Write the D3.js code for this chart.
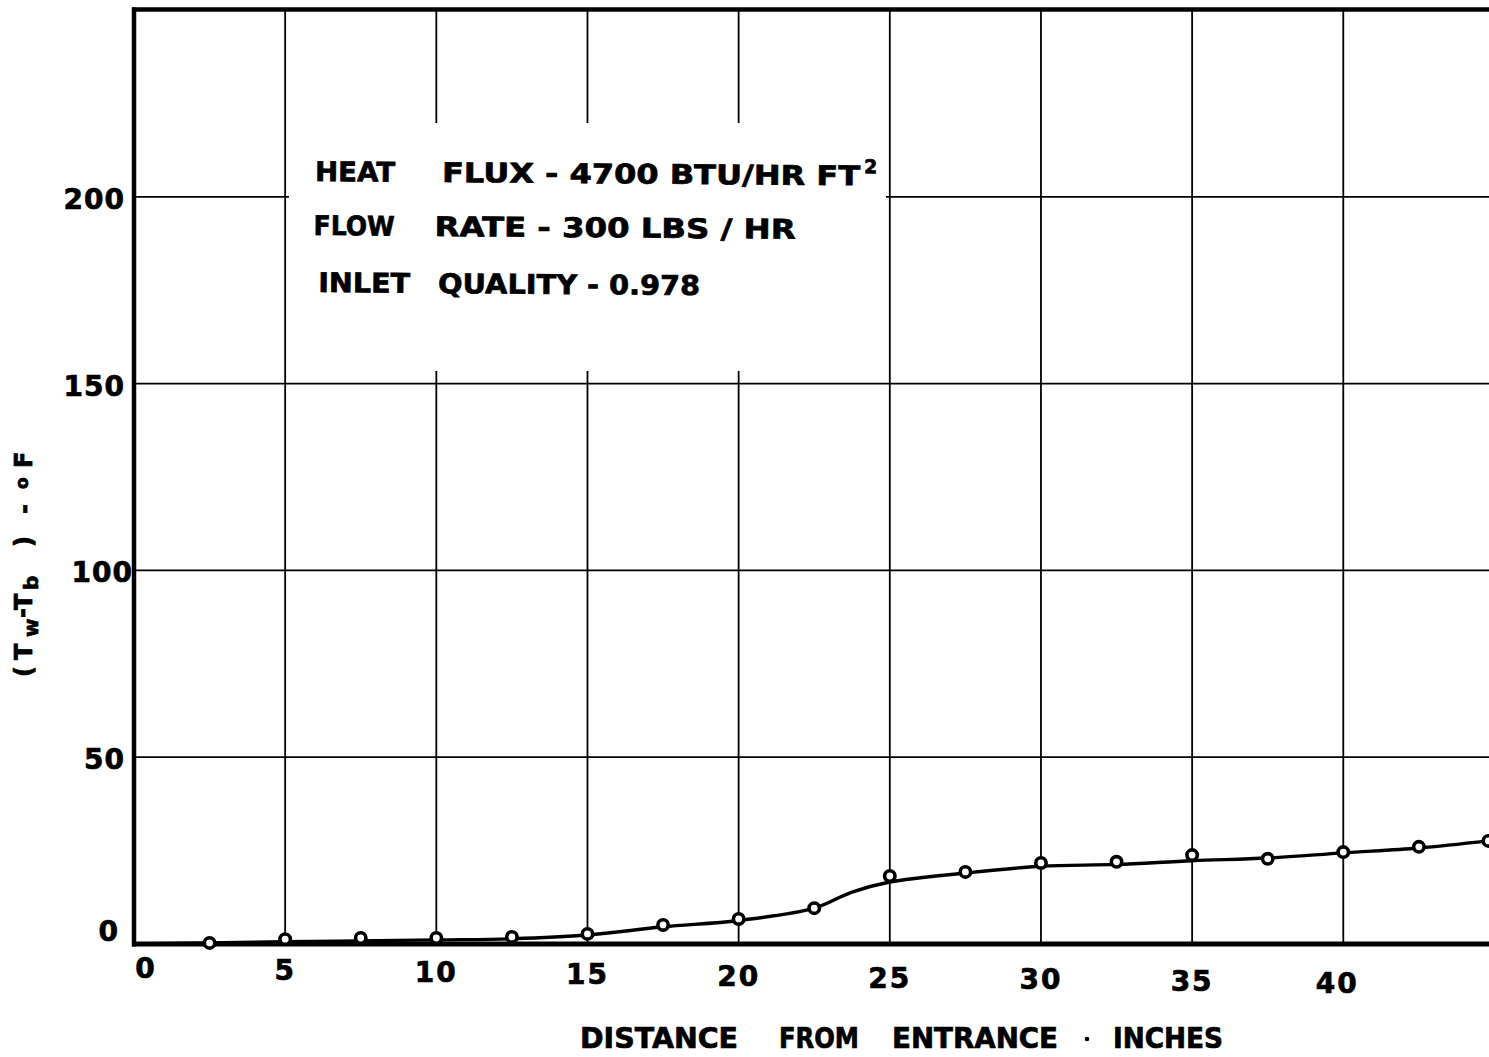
<!DOCTYPE html>
<html>
<head>
<meta charset="utf-8">
<script src="https://cdn.jsdelivr.net/npm/d3@7"></script>
<style>
  html, body { margin: 0; padding: 0; background: #fff; }
  svg { display: block; }
  text { font-family: "DejaVu Sans", "Liberation Sans", sans-serif; font-weight: bold; fill: #000; stroke: #000; stroke-width: 0.7px; }
</style>
</head>
<body>
<script>
// Measured wall-to-bulk temperature difference along the test section
const distance = [2.5, 5, 7.5, 10, 12.5, 15, 17.5, 20, 22.5, 25, 27.5, 30, 32.5, 35, 37.5, 40, 42.5, 44.8];
const deltaT   = [0.3, 1.3, 1.6, 1.6, 1.9, 2.7, 5.1, 6.7, 9.6, 18.2, 19.3, 21.7, 22.0, 23.8, 22.8, 24.6, 26.0, 27.6];

// Faired curve drawn through the data
const curveX = [0, 5, 10, 12.5, 15, 17.5, 20, 22.5, 23.75, 25, 27.5, 30, 32.5, 35, 37.5, 40, 42.5, 44.8];
const curveY = [0, 0.6, 1.1, 1.4, 2.4, 4.6, 6.3, 9.6, 13.9, 16.6, 19.0, 20.8, 21.3, 22.3, 23.0, 24.4, 25.7, 27.6];

// Axis ticks and labels
const xTicks = [0, 5, 10, 15, 20, 25, 30, 35, 40];
const xTickLabels = ["0", "5", "10", "15", "20", "25", "30", "35", "40"];
const yTicks = [0, 50, 100, 150, 200];
const yTickLabels = ["0", "50", "100", "150", "200"];

const W = 1489, H = 1057;
const svg = d3.select("body").append("svg").attr("width", W).attr("height", H);
svg.append("rect").attr("width", W).attr("height", H).attr("fill", "#fff");

const x = d3.scaleLinear().domain([0, 44.82]).range([134, 1489]);
const y = d3.scaleLinear().domain([0, 250]).range([944, 10]);

// Grid
const grid = svg.append("g").attr("stroke", "#000").attr("stroke-width", 1.8);
grid.selectAll("line.v").data(xTicks.filter(d => d > 0)).join("line")
  .attr("x1", d => x(d)).attr("x2", d => x(d))
  .attr("y1", y(0)).attr("y2", y(250));
grid.selectAll("line.h").data(yTicks.filter(d => d > 0)).join("line")
  .attr("x1", x(0)).attr("x2", W)
  .attr("y1", d => y(d)).attr("y2", d => y(d));

// Blank panel behind the test conditions
svg.append("rect").attr("x", 289).attr("y", 123).attr("width", 597).attr("height", 248).attr("fill", "#fff");

// Frame: left axis, top border, bottom axis
svg.append("line").attr("x1", x(0)).attr("x2", x(0)).attr("y1", 7.5).attr("y2", 946.5)
  .attr("stroke", "#000").attr("stroke-width", 4.5);
svg.append("line").attr("x1", x(0) - 2).attr("x2", W).attr("y1", 9.5).attr("y2", 9.5)
  .attr("stroke", "#000").attr("stroke-width", 4.5);
svg.append("line").attr("x1", x(0) - 2).attr("x2", W).attr("y1", y(0)).attr("y2", y(0))
  .attr("stroke", "#000").attr("stroke-width", 5);

// Faired curve
const line = d3.line().x((d, i) => x(curveX[i])).y(d => y(d)).curve(d3.curveCatmullRom.alpha(0.5));
svg.append("path").datum(curveY).attr("d", line)
  .attr("fill", "none").attr("stroke", "#000").attr("stroke-width", 3.4)
  .attr("stroke-linejoin", "round");

// Data points
svg.append("g").selectAll("circle").data(deltaT).join("circle")
  .attr("cx", (d, i) => x(distance[i])).attr("cy", d => y(d))
  .attr("r", 5.2).attr("fill", "#fff").attr("stroke", "#000").attr("stroke-width", 3.6);

// X tick labels
svg.append("g").selectAll("text").data(xTicks).join("text")
  .attr("x", d => x(d) + (d === 0 ? 12 : d === 40 ? -6 : 0))
  .attr("y", d => 978 + d * 0.38)
  .attr("text-anchor", "middle").attr("font-size", 28).attr("letter-spacing", 2)
  .text((d, i) => xTickLabels[i]);

// Y tick labels
svg.append("g").selectAll("text").data(yTicks).join("text")
  .attr("x", d => d === 0 ? 119 : d === 100 ? 133 : 125)
  .attr("y", d => d === 0 ? y(d) - 3 : y(d) + 12)
  .attr("text-anchor", "end").attr("font-size", 28).attr("letter-spacing", 1)
  .text((d, i) => yTickLabels[i]);

// X axis title
const xTitle = [["DISTANCE", 580, 738], ["FROM", 779, 859], ["ENTRANCE", 892, 1058], ["INCHES", 1113, 1223]];
svg.append("g").selectAll("text").data(xTitle).join("text")
  .attr("x", d => d[1]).attr("y", 1048)
  .attr("font-size", 28)
  .attr("textLength", d => d[2] - d[1]).attr("lengthAdjust", "spacingAndGlyphs")
  .text(d => d[0]);
svg.append("circle").attr("cx", 1087).attr("cy", 1039).attr("r", 2.3).attr("fill", "#000");

// Y axis title, read bottom to top
const yt = svg.append("text").attr("transform", "translate(32,677) rotate(-90)").attr("font-size", 24);
const yPieces = [
  { t: "(", x: 0, dy: 0, fs: 24 },
  { t: "T", x: 17, dy: 0, fs: 24 },
  { t: "w", x: 40, dy: 6, fs: 20 },
  { t: "-", x: 59, dy: -8, fs: 24 },
  { t: "T", x: 67, dy: 2, fs: 24 },
  { t: "b", x: 87, dy: 6, fs: 20 },
  { t: ")", x: 130, dy: -6, fs: 24 },
  { t: "-", x: 163, dy: 0, fs: 24 },
  { t: "o", x: 188, dy: -4, fs: 17 },
  { t: "F", x: 209, dy: 4, fs: 24 }
];
yt.selectAll("tspan").data(yPieces).join("tspan")
  .attr("x", d => d.x).attr("dy", d => d.dy).attr("font-size", d => d.fs)
  .text(d => d.t);

// Test conditions
const info = svg.append("g").attr("transform", "rotate(0.45 315 181)");
const infoText = [
  ["HEAT", 315, 395, 181],
  ["FLUX - 4700 BTU/HR FT", 442, 860, 181],
  ["FLOW", 314, 395, 235],
  ["RATE - 300 LBS / HR", 435, 796, 235],
  ["INLET", 319, 411, 292],
  ["QUALITY - 0.978", 439, 701, 292]
];
info.selectAll("text").data(infoText).join("text")
  .attr("x", d => d[1]).attr("y", d => d[3]).attr("font-size", 27)
  .attr("textLength", d => d[2] - d[1]).attr("lengthAdjust", "spacingAndGlyphs")
  .text(d => d[0]);
info.append("text").attr("x", 864).attr("y", 169).attr("font-size", 19).text("2");
</script>
</body>
</html>
